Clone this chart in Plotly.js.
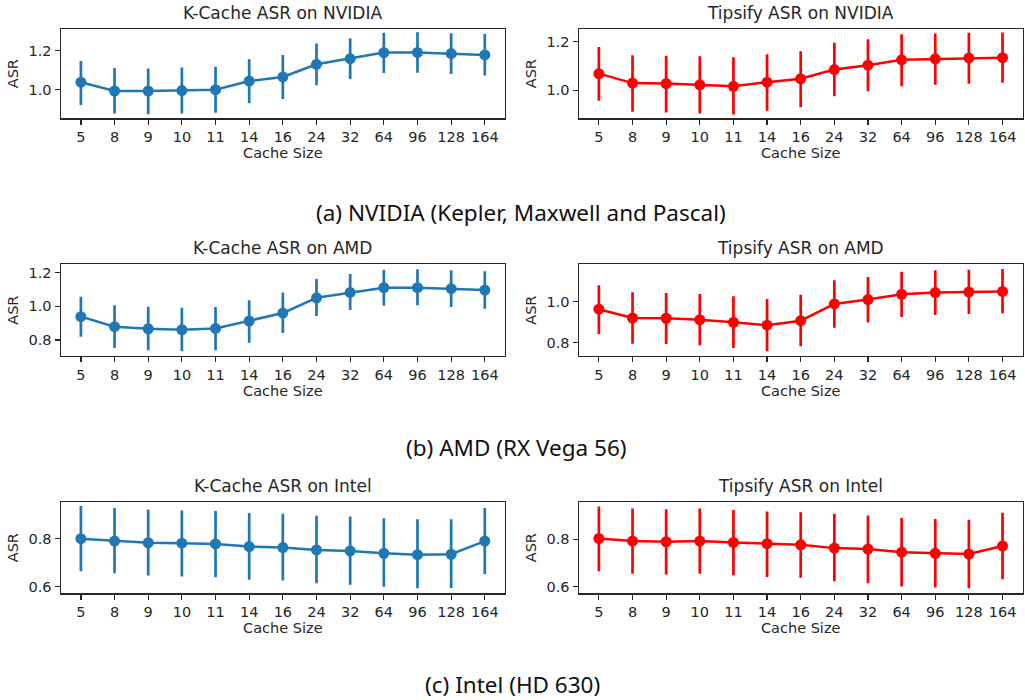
<!DOCTYPE html>
<html>
<head>
<meta charset="utf-8">
<script src="https://cdn.plot.ly/plotly-3.0.1.min.js"></script>
<style>html,body{margin:0;padding:0;background:#fff;}#chart{width:1025px;height:700px;}</style>
</head>
<body>
<div id="chart"></div>
<script>
// ---- data ----
const cacheSizes = ["5","8","9","10","11","14","16","24","32","64","96","128","164"];

const kcacheNvidiaMean  = [1.038,0.993,0.993,0.995,1.000,1.044,1.065,1.130,1.159,1.190,1.191,1.185,1.178];
const kcacheNvidiaHigh  = [1.147,1.111,1.109,1.113,1.118,1.156,1.178,1.236,1.263,1.292,1.294,1.289,1.285];
const kcacheNvidiaLow   = [0.921,0.877,0.874,0.877,0.882,0.930,0.952,1.022,1.055,1.085,1.087,1.080,1.072];

const tipsifyNvidiaMean = [1.068,1.029,1.027,1.022,1.016,1.033,1.047,1.085,1.103,1.125,1.129,1.133,1.134];
const tipsifyNvidiaHigh = [1.178,1.144,1.142,1.140,1.136,1.148,1.160,1.195,1.210,1.230,1.233,1.237,1.238];
const tipsifyNvidiaLow  = [0.956,0.911,0.908,0.904,0.900,0.915,0.930,0.975,0.995,1.016,1.022,1.026,1.030];

const kcacheAmdMean  = [0.939,0.879,0.867,0.861,0.869,0.913,0.960,1.051,1.083,1.111,1.111,1.105,1.097];
const kcacheAmdHigh  = [1.057,1.006,0.998,0.992,0.996,1.036,1.083,1.162,1.192,1.218,1.220,1.214,1.208];
const kcacheAmdLow   = [0.820,0.752,0.739,0.733,0.739,0.784,0.842,0.943,0.978,1.004,1.006,0.996,0.986];

const tipsifyAmdMean = [0.963,0.920,0.919,0.912,0.899,0.885,0.907,0.989,1.010,1.036,1.044,1.047,1.050];
const tipsifyAmdHigh = [1.080,1.046,1.042,1.037,1.026,1.013,1.033,1.104,1.120,1.146,1.153,1.156,1.159];
const tipsifyAmdLow  = [0.842,0.795,0.793,0.787,0.774,0.758,0.782,0.873,0.898,0.925,0.935,0.940,0.943];

const kcacheIntelMean  = [0.800,0.790,0.783,0.781,0.778,0.767,0.763,0.753,0.749,0.739,0.733,0.735,0.790];
const kcacheIntelHigh  = [0.936,0.928,0.922,0.918,0.915,0.907,0.904,0.896,0.892,0.885,0.881,0.881,0.928];
const kcacheIntelLow   = [0.664,0.656,0.646,0.642,0.639,0.629,0.625,0.614,0.608,0.599,0.593,0.594,0.653];

const tipsifyIntelMean = [0.804,0.793,0.790,0.793,0.787,0.782,0.777,0.763,0.759,0.746,0.741,0.738,0.772];
const tipsifyIntelHigh = [0.939,0.930,0.927,0.931,0.924,0.918,0.915,0.907,0.901,0.890,0.886,0.883,0.913];
const tipsifyIntelLow  = [0.665,0.655,0.651,0.655,0.648,0.641,0.638,0.623,0.615,0.601,0.596,0.593,0.631];

const panelTitles = ["K-Cache ASR on NVIDIA","Tipsify ASR on NVIDIA","K-Cache ASR on AMD","Tipsify ASR on AMD","K-Cache ASR on Intel","Tipsify ASR on Intel"];
const captions = ["(a) NVIDIA (Kepler, Maxwell and Pascal)","(b) AMD (RX Vega 56)","(c) Intel (HD 630)"];

// ---- layout helpers ----
const W = 1025, H = 700;
const blue = "#1f77b4", red = "#ff0000";
const font = "DejaVu Sans, sans-serif";
const ink = "#262626";

const series = [
  [kcacheNvidiaMean, kcacheNvidiaHigh, kcacheNvidiaLow, blue],
  [tipsifyNvidiaMean, tipsifyNvidiaHigh, tipsifyNvidiaLow, red],
  [kcacheAmdMean, kcacheAmdHigh, kcacheAmdLow, blue],
  [tipsifyAmdMean, tipsifyAmdHigh, tipsifyAmdLow, red],
  [kcacheIntelMean, kcacheIntelHigh, kcacheIntelLow, blue],
  [tipsifyIntelMean, tipsifyIntelHigh, tipsifyIntelLow, red]
];
const yRanges = [[0.853,1.311],[0.884,1.252],[0.705,1.25],[0.735,1.182],[0.572,0.953],[0.572,0.958]];
const yTicks = [[1.0,1.2],[1.0,1.2],[0.8,1.0,1.2],[0.8,1.0],[0.6,0.8],[0.6,0.8]];

const colPx = [[60.7,505],[578.7,1022.7]];
const rowPx = [[29,118.3],[264.3,356],[502,593.3]];
const captionPos = [[521,212],[516,447],[512.5,684]];

const traces = [];
const layout = {
  width: W, height: H,
  margin: {l:0, r:0, t:0, b:0},
  paper_bgcolor: "#fff", plot_bgcolor: "#fff",
  showlegend: false,
  font: {family: font, color: ink, size: 14},
  annotations: []
};

series.forEach((s, i) => {
  const [mean, hi, lo, color] = s;
  const n = i + 1;
  const sfx = n === 1 ? "" : String(n);
  const col = i % 2, row = Math.floor(i / 2);
  traces.push({
    type: "scatter", mode: "lines+markers",
    x: cacheSizes, y: mean,
    xaxis: "x" + sfx, yaxis: "y" + sfx,
    line: {color: color, width: 2.5},
    marker: {color: color, size: 11},
    error_y: {
      type: "data", symmetric: false,
      array: hi.map((h, k) => h - mean[k]),
      arrayminus: lo.map((l, k) => mean[k] - l),
      color: color, thickness: 2.7, width: 0
    },
    hoverinfo: "x+y"
  });
  const xd = [colPx[col][0] / W, colPx[col][1] / W];
  const yd = [1 - rowPx[row][1] / H, 1 - rowPx[row][0] / H];
  layout["xaxis" + sfx] = {
    domain: xd, anchor: "y" + sfx, type: "category",
    categoryorder: "array", categoryarray: cacheSizes,
    range: [-0.6, 12.6],
    showline: true, mirror: true, linecolor: ink, linewidth: 1.2,
    ticks: "outside", ticklen: 5, tickwidth: 1.2, tickcolor: ink,
    showgrid: false, zeroline: false,
    tickfont: {family: font, size: 14.5, color: ink},
    title: {text: "Cache Size", font: {family: font, size: 14.5, color: ink}, standoff: 2},
    fixedrange: true
  };
  layout["yaxis" + sfx] = {
    domain: yd, anchor: "x" + sfx,
    range: yRanges[i], tickvals: yTicks[i], tickformat: ".1f",
    showline: true, mirror: true, linecolor: ink, linewidth: 1.2,
    ticks: "outside", ticklen: 5, tickwidth: 1.2, tickcolor: ink,
    showgrid: false, zeroline: false,
    tickfont: {family: font, size: 14.5, color: ink},
    title: {text: "ASR", font: {family: font, size: 14.5, color: ink}, standoff: 6},
    fixedrange: true
  };
  layout.annotations.push({
    text: panelTitles[i], xref: "paper", yref: "paper",
    x: (colPx[col][0] + colPx[col][1]) / 2 / W,
    y: 1 - (rowPx[row][0] - 16) / H,
    xanchor: "center", yanchor: "middle", showarrow: false,
    font: {family: font, size: 17, color: ink}
  });
});

captions.forEach((c, j) => {
  layout.annotations.push({
    text: c, xref: "paper", yref: "paper",
    x: captionPos[j][0] / W, y: 1 - captionPos[j][1] / H,
    xanchor: "center", yanchor: "middle", showarrow: false,
    font: {family: "'Noto Sans', 'Open Sans', sans-serif", size: 22.5, color: "#111"}
  });
});

Plotly.newPlot("chart", traces, layout, {displayModeBar: false, staticPlot: true});
</script>
</body>
</html>
